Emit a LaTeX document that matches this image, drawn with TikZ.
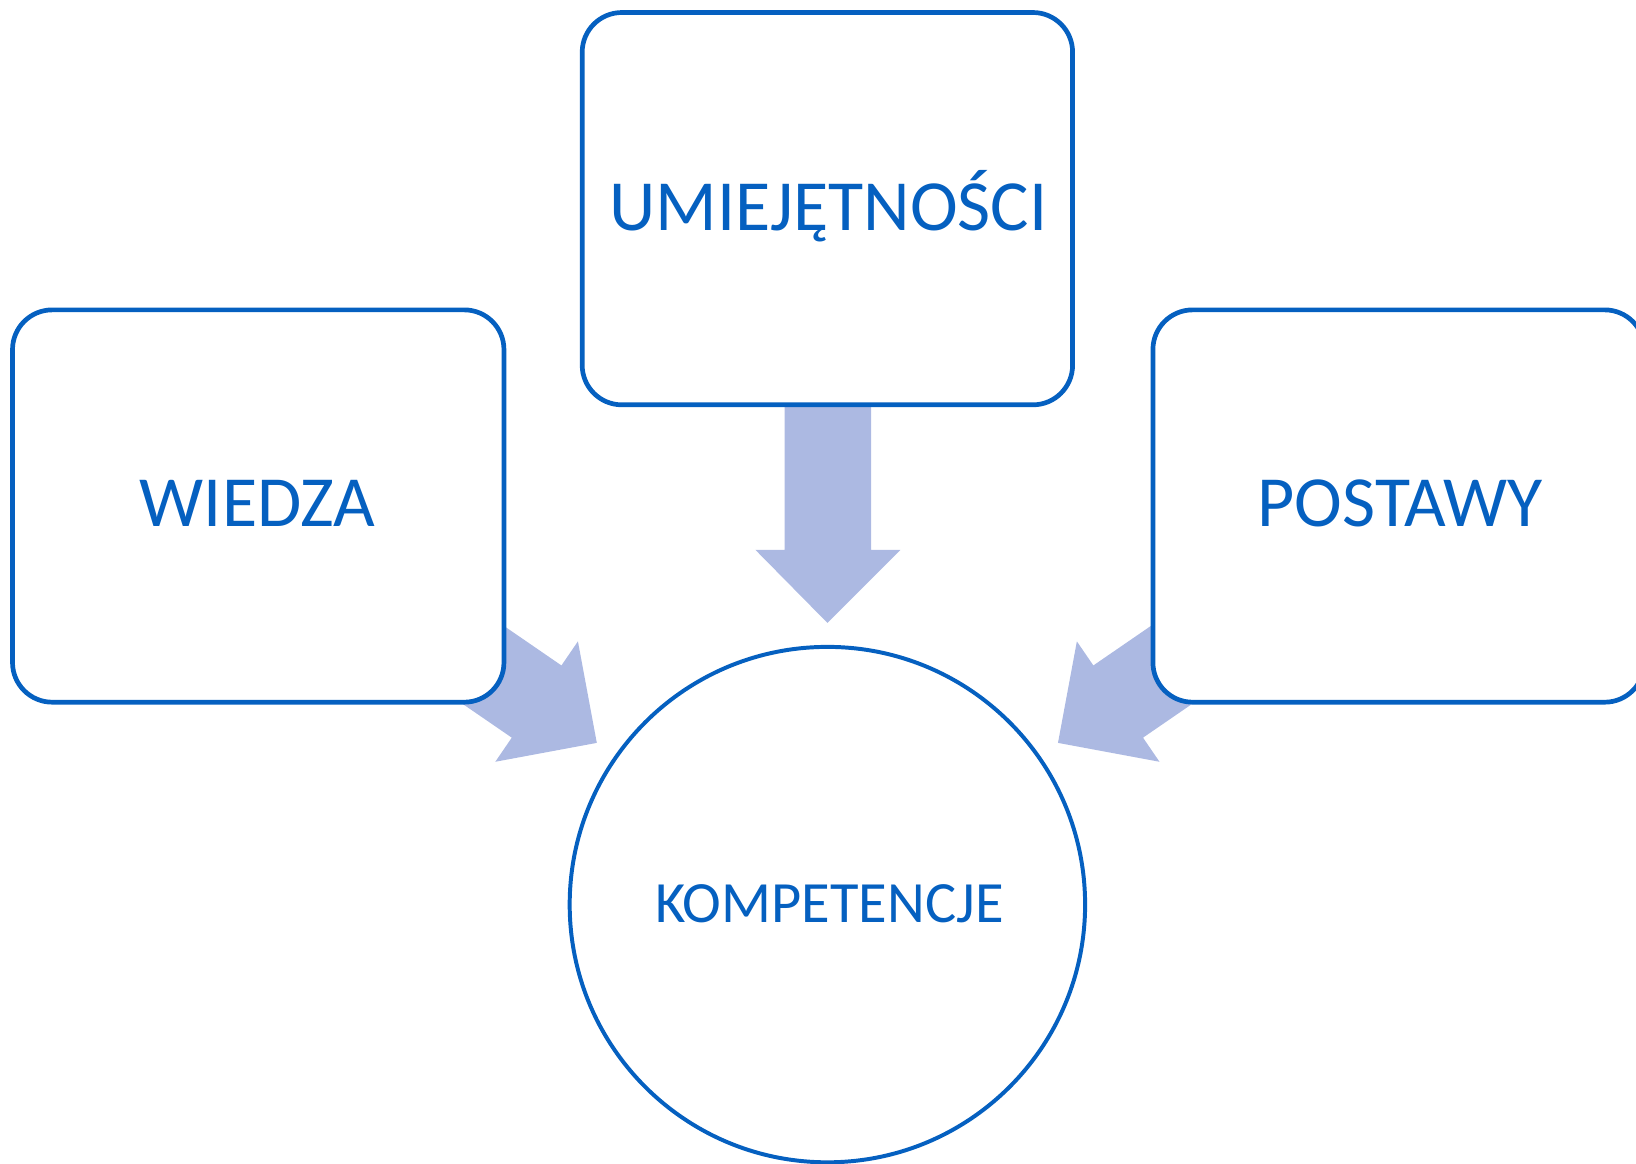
\documentclass[tikz,border=0pt]{standalone}
\usepackage{fontspec}
\setmainfont{Carlito}
\definecolor{lineblue}{RGB}{5,96,192}
\definecolor{arrowfill}{RGB}{172,185,226}
\begin{document}
\begin{tikzpicture}[x=1pt,y=-1pt,
  box/.style={draw=lineblue,line width=4.5pt,fill=white,rounded corners=38pt},
  lbl/.style={text=lineblue,font=\fontsize{69}{76}\selectfont},
  lblsmall/.style={text=lineblue,font=\fontsize{56}{62}\selectfont},
  blockarrow/.style={fill=arrowfill,draw=none}]
\useasboundingbox (0,0) rectangle (1568,1115);
% block arrows (drawn first, boxes cover their tails)
\fill[blockarrow] (752,380) -- (835,380) -- (835,527) -- (863,527) -- (793,597) -- (724,527) -- (752,527) -- cycle;
\fill[blockarrow] (431.0,564.2) -- (538.1,637.8) -- (553.9,614.7) -- (572,712) -- (474.7,730.1) -- (490.5,707.0) -- (383.4,633.4) -- cycle;
\fill[blockarrow] (1155.0,564.2) -- (1047.9,637.8) -- (1032.1,614.7) -- (1014,712) -- (1111.3,730.1) -- (1095.5,707.0) -- (1202.6,633.4) -- cycle;
% boxes
\draw[box] (558,12) rectangle (1028,388);
\draw[box] (12,297) rectangle (483,673);
\draw[box] (1105,297) rectangle (1576,673);
\draw[draw=lineblue,line width=3.8pt,fill=white] (793,867) circle (247);
% labels
\node[lbl] (umi) at (794,198) {UMIEJĘTNOŚCI};
\node[lbl] (wie) at (247,482) {WIEDZA};
\node[lbl] (pos) at (1342,482) {POSTAWY};
\node[lblsmall] (kom) at (795,866) {KOMPETENCJE};
\end{tikzpicture}
\end{document}
